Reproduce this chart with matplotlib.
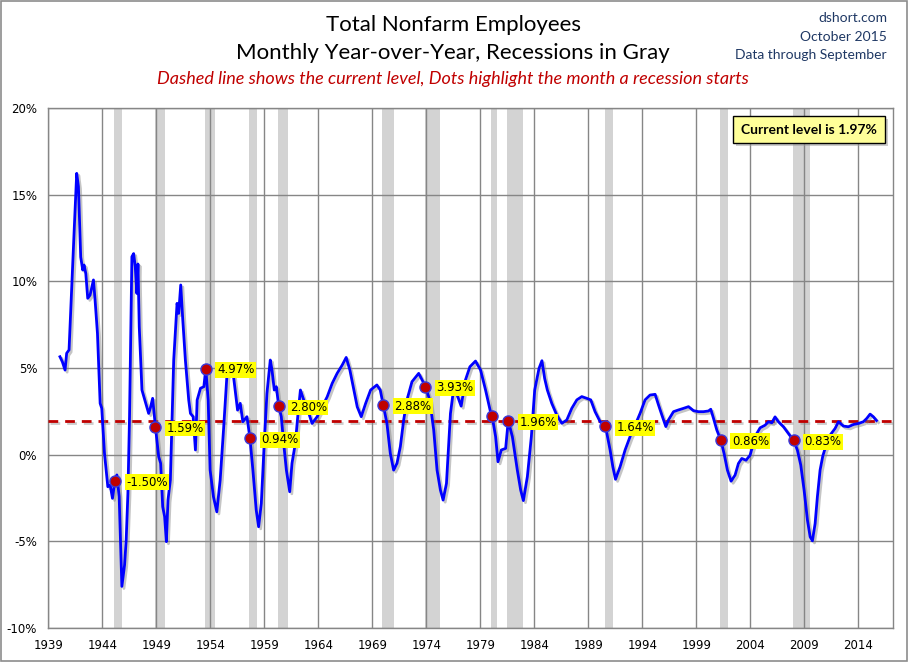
import matplotlib
matplotlib.use("Agg")
import matplotlib.pyplot as plt
import matplotlib.patheffects as pe
from matplotlib.patches import Rectangle

# year-over-year % change (decimal years)
dates = [
    1940.08, 1940.30, 1940.55, 1940.70, 1940.92, 1941.17, 1941.41, 1941.63, 1941.79, 1942.00,
    1942.19, 1942.31, 1942.47, 1942.65, 1942.87, 1943.18, 1943.33, 1943.55, 1943.80, 1943.95,
    1944.20, 1944.51, 1944.73, 1944.94, 1945.17, 1945.35, 1945.56, 1945.81, 1946.06, 1946.21,
    1946.37, 1946.52, 1946.74, 1946.90, 1947.05, 1947.20, 1947.30, 1947.42, 1947.67, 1947.98,
    1948.29, 1948.44, 1948.66, 1948.92, 1949.22, 1949.40, 1949.59, 1949.77, 1949.93, 1950.08,
    1950.30, 1950.61, 1950.92, 1951.07, 1951.26, 1951.45, 1951.69, 1952.00, 1952.16, 1952.41,
    1952.62, 1952.78, 1953.09, 1953.40, 1953.58, 1953.80, 1953.98, 1954.29, 1954.60, 1954.91,
    1955.22, 1955.53, 1955.77, 1956.15, 1956.52, 1956.77, 1957.01, 1957.39, 1957.67, 1957.94,
    1958.25, 1958.47, 1958.72, 1958.99, 1959.24, 1959.55, 1959.71, 1959.92, 1960.11, 1960.33,
    1960.57, 1960.79, 1961.04, 1961.35, 1961.56, 1961.87, 1962.12, 1962.34, 1962.65, 1963.02,
    1963.42, 1963.89, 1964.35, 1964.82, 1965.28, 1965.74, 1966.21, 1966.58, 1966.92, 1967.29,
    1967.60, 1967.97, 1968.38, 1968.84, 1969.42, 1969.73, 1970.00, 1970.35, 1970.66, 1970.97,
    1971.28, 1971.59, 1971.90, 1972.20, 1972.67, 1973.29, 1973.60, 1973.92, 1974.31, 1974.68,
    1974.99, 1975.30, 1975.55, 1975.86, 1976.23, 1976.48, 1976.85, 1977.22, 1977.62, 1978.03,
    1978.55, 1979.02, 1979.48, 1979.90, 1980.08, 1980.41, 1980.63, 1980.94, 1981.34, 1981.58,
    1981.96, 1982.42, 1982.73, 1982.98, 1983.35, 1983.72, 1984.03, 1984.43, 1984.70, 1984.95,
    1985.20, 1985.61, 1986.07, 1986.54, 1987.00, 1987.46, 1987.93, 1988.39, 1988.85, 1989.22,
    1989.62, 1990.09, 1990.58, 1991.01, 1991.26, 1991.51, 1991.94, 1992.40, 1992.86, 1993.33,
    1993.79, 1994.25, 1994.71, 1995.18, 1995.49, 1995.80, 1996.17, 1996.41, 1996.88, 1997.34,
    1997.80, 1998.27, 1998.73, 1999.19, 1999.65, 2000.12, 2000.33, 2000.58, 2000.89, 2001.25,
    2001.56, 2001.87, 2002.21, 2002.58, 2002.89, 2003.20, 2003.60, 2003.97, 2004.28, 2004.59,
    2004.90, 2005.36, 2005.67, 2005.98, 2006.28, 2006.59, 2007.06, 2007.52, 2007.80, 2008.00,
    2008.35, 2008.66, 2008.97, 2009.28, 2009.53, 2009.74, 2009.99, 2010.20, 2010.45, 2010.70,
    2011.01, 2011.38, 2011.84, 2012.15, 2012.61, 2013.07, 2013.54, 2014.00, 2014.46, 2014.77,
    2015.08, 2015.39, 2015.67,
]
yoy = [
    5.65, 5.36, 4.88, 5.85, 6.04, 9.70, 13.15, 16.23, 15.46, 11.40,
    10.65, 10.94, 10.46, 9.02, 9.21, 10.08, 8.92, 7.00, 2.96, 2.67,
    0.08, -1.85, -1.75, -2.52, -1.50, -1.17, -2.42, -7.60, -6.37, -4.92,
    -2.23, 2.19, 11.42, 11.60, 10.85, 9.30, 11.00, 7.38, 3.73, 3.06,
    2.38, 2.67, 3.25, 1.59, -0.12, -0.50, -3.00, -3.58, -5.02, -2.62,
    -1.46, 5.46, 8.73, 8.15, 9.79, 7.77, 5.46, 3.15, 2.38, 2.19,
    0.27, 3.15, 3.83, 3.92, 4.97, 3.15, -0.89, -2.43, -3.30, -1.47,
    1.42, 4.50, 4.88, 4.50, 2.57, 2.96, 1.90, 2.19, 0.94, -0.89,
    -3.20, -4.16, -2.81, 0.65, 3.53, 5.46, 4.88, 3.73, 3.92, 2.80,
    2.19, 0.65, -0.89, -2.14, -0.50, 0.65, 2.38, 3.73, 3.15, 2.57,
    1.80, 2.19, 2.76, 3.34, 4.11, 4.69, 5.17, 5.61, 4.88, 3.73,
    2.76, 2.19, 2.96, 3.73, 4.02, 3.73, 2.88, 1.80, 0.08, -0.89,
    -0.50, 0.46, 2.00, 3.15, 4.21, 4.69, 4.31, 3.93, 3.15, 1.42,
    -0.89, -2.04, -2.62, -1.66, 2.38, 3.57, 3.44, 2.80, 4.31, 5.07,
    5.40, 4.88, 3.73, 2.57, 2.25, 1.04, -0.41, 0.27, 0.36, 1.96,
    1.04, -0.89, -2.04, -2.65, -1.27, 1.04, 3.73, 4.98, 5.42, 4.40,
    3.73, 2.96, 2.29, 1.81, 2.00, 2.67, 3.16, 3.35, 3.25, 3.16,
    2.48, 1.90, 1.64, 0.27, -0.69, -1.42, -0.69, 0.27, 1.04, 1.71,
    2.39, 3.16, 3.44, 3.48, 2.87, 2.29, 1.62, 2.00, 2.48, 2.58,
    2.67, 2.77, 2.54, 2.48, 2.48, 2.52, 2.62, 2.10, 1.42, 0.86,
    0.07, -0.89, -1.53, -1.18, -0.51, -0.22, -0.32, -0.03, 0.65, 1.22,
    1.55, 1.70, 1.90, 1.84, 2.18, 1.90, 1.61, 1.22, 0.98, 0.83,
    0.26, -0.60, -2.05, -3.78, -4.74, -4.97, -3.97, -2.43, -0.89, -0.08,
    0.55, 1.13, 1.51, 1.90, 1.65, 1.61, 1.74, 1.80, 1.90, 2.09,
    2.34, 2.18, 1.97,
]

current = 1.97

# NBER recessions (start, end) in decimal years
rec_start = [1945.083, 1948.833, 1953.500, 1957.583, 1960.250, 1969.917,
             1973.833, 1980.000, 1981.500, 1990.500, 2001.167, 2007.917]
rec_end = [1945.833, 1949.833, 1954.417, 1958.333, 1961.167, 1971.000,
           1975.250, 1980.583, 1982.917, 1991.250, 2001.917, 2009.500]

# value in the month a recession starts (plotted one month later, as in the source)
dot_x = [1945.17, 1948.92, 1953.58, 1957.67, 1960.33, 1970.00,
         1973.92, 1980.08, 1981.58, 1990.58, 2001.25, 2008.00]
dot_y = [-1.50, 1.59, 4.97, 0.94, 2.80, 2.88, 3.93, 2.25, 1.96, 1.64, 0.86, 0.83]
dot_labels = ["-1.50%", "1.59%", "4.97%", "0.94%", "2.80%", "2.88%", "3.93%",
              None, "1.96%", "1.64%", "0.86%", "0.83%"]

x_ticks = list(range(1939, 2015, 5))
y_ticks = [-10, -5, 0, 5, 10, 15, 20]

grid_col = "#868686"
navy = "#1f3864"

fig = plt.figure(figsize=(9.08, 6.62), dpi=100)
ax = fig.add_axes([48.3 / 908, 1 - 628 / 662, (893 - 48.3) / 908, (628 - 108) / 662])

for s, e in zip(rec_start, rec_end):
    ax.axvspan(s, e, color="#d3d3d3", lw=0, zorder=0)

for x in x_ticks:
    ax.axvline(x, color=grid_col, lw=1, zorder=1)
for y in y_ticks:
    ax.axhline(y, color=grid_col, lw=1, zorder=1)

ax.axhline(current, color="#c00000", lw=2, linestyle=(0, (3.5, 2.5)), zorder=3,
           path_effects=[pe.SimpleLineShadow(offset=(1.5, -1.5), shadow_color="gray", alpha=0.4),
                         pe.Normal()])

ax.plot(dates, yoy, color="#0000ff", lw=2, zorder=4, solid_joinstyle="round",
        path_effects=[pe.SimpleLineShadow(offset=(1.5, -1.5), shadow_color="gray", alpha=0.45),
                      pe.Normal()])

ax.plot(dot_x, dot_y, "o", ms=8, mfc="#c00000", mec="#3a3adb", mew=1, zorder=5, ls="none")

for x, y, lab in zip(dot_x, dot_y, dot_labels):
    if lab is None:
        continue
    ax.annotate(lab, (x, y), xytext=(8, -1), textcoords="offset points",
                ha="left", va="center", fontsize=8.5, color="black", zorder=6,
                bbox=dict(boxstyle="square,pad=0.12", fc="#ffff00", ec="none"))

ax.set_xlim(1939, 2017.2)
ax.set_ylim(-10, 20)
ax.set_xticks(x_ticks)
ax.set_xticklabels([str(x) for x in x_ticks])
ax.set_yticks(y_ticks)
ax.set_yticklabels([f"{y}%" for y in y_ticks])
ax.tick_params(axis="both", length=0, labelsize=8.5, colors="black")
ax.tick_params(axis="x", pad=8)
ax.tick_params(axis="y", pad=8)
for sp in ax.spines.values():
    sp.set_color(grid_col)
    sp.set_linewidth(1)

# titles
fig.text(453 / 908, 1 - 25 / 662, "Total Nonfarm Employees", ha="center", va="center",
         fontsize=16, family="Lato", color="black")
fig.text(453 / 908, 1 - 53 / 662, "Monthly Year-over-Year, Recessions in Gray", ha="center",
         va="center", fontsize=16, family="Lato", color="black")
fig.text(453 / 908, 1 - 79 / 662,
         "Dashed line shows the current level, Dots highlight the month a recession starts",
         ha="center", va="center", fontsize=13, family="Lato", style="italic", color="#c00000")

for yy, txt in zip([18, 37, 55], ["dshort.com", "October 2015", "Data through September"]):
    fig.text(887 / 908, 1 - yy / 662, txt, ha="right", va="center", fontsize=10,
             family="Lato", color=navy)

# current level box
bx, by, bw, bh = 733 / 908, 1 - 143 / 662, 152 / 908, 27 / 662
fig.add_artist(Rectangle((bx + 3 / 908, by - 3 / 662), bw, bh, transform=fig.transFigure,
                         fc="#9a9a9a", ec="none", alpha=0.5, zorder=8))
fig.add_artist(Rectangle((bx, by), bw, bh, transform=fig.transFigure,
                         fc="#ffff99", ec="black", lw=1, zorder=9))
fig.text(bx + bw / 2, by + bh / 2, "Current level is 1.97%", ha="center", va="center",
         fontsize=10, family="Lato", weight="bold", color="black", zorder=10)

# chart border
fig.add_artist(Rectangle((0.001, 0.0015), 0.998, 0.997, transform=fig.transFigure,
                         fill=False, ec="#8c8c8c", lw=1.2))

fig.savefig("out.png", dpi=100)
